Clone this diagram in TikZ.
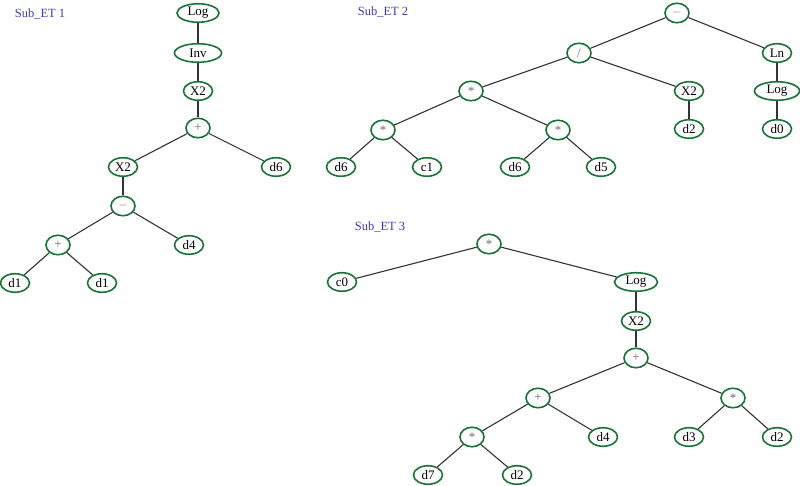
\documentclass[tikz,border=0pt]{standalone}
\usepackage{fontspec}
\setmainfont{Liberation Serif}
\usepackage{tikz}
\usetikzlibrary{shapes.geometric}

\definecolor{genegreen}{RGB}{25,115,55}
\definecolor{labelblue}{RGB}{60,60,180}
\definecolor{opgray}{RGB}{110,110,110}

\begin{document}
\begin{tikzpicture}[x=1pt,y=-1pt]
    \tikzstyle{gene} = [draw=genegreen, ellipse, line width=1.6pt, fill=white, inner sep=0pt, minimum width=29pt, minimum height=18.5pt, font=\fontsize{13}{15}\selectfont]
    \tikzstyle{op} = [gene, minimum width=24pt, minimum height=19.5pt, text=opgray]
    \tikzstyle{link} = [line width=1.1pt, draw=black!80]
    \tikzstyle{title} = [text=labelblue, font=\fontsize{12.5}{14}\selectfont]
    \useasboundingbox (0,0) rectangle (800,486);

    % Sub_ET 1
    \node [title] (T1) at (40,14) {Sub\_ET 1};
    \node [gene, minimum width=42pt] (ALog) at (198,13) {Log};
    \node [gene, minimum width=47pt] (AInv) at (198,53) {Inv};
    \draw [link] (ALog) -- (AInv);
    \node [gene] (ASq) at (198,91) {X2};
    \draw [link] (AInv) -- (ASq);
    \node [op] (APlus) at (198,128) {+};
    \draw [link] (ASq) -- (APlus);

      % left branch of the sum
      \node [gene] (ASqL) at (123,167) {X2};
      \draw [link] (APlus) -- (ASqL);
      \node [op] (AMinus) at (123,206) {$-$};
      \draw [link] (ASqL) -- (AMinus);
      \node [op] (APlusL) at (58,245) {+};
      \draw [link] (AMinus) -- (APlusL);
      \node [gene] (AdOneL) at (15,283) {d1};
      \draw [link] (APlusL) -- (AdOneL);
      \node [gene] (AdOneR) at (102,283) {d1};
      \draw [link] (APlusL) -- (AdOneR);
      \node [gene] (AdFour) at (189,245) {d4};
      \draw [link] (AMinus) -- (AdFour);

      % right branch of the sum
      \node [gene] (AdSix) at (276,167) {d6};
      \draw [link] (APlus) -- (AdSix);

    % Sub_ET 2
    \node [title] (T2) at (383,12) {Sub\_ET 2};
    \node [op] (BMinus) at (677,13) {$-$};
    \node [op] (BDiv) at (579,53) {/};
    \draw [link] (BMinus) -- (BDiv);

      % numerator
      \node [op] (BMul) at (471,91) {*};
      \draw [link] (BDiv) -- (BMul);
      \node [op] (BMulL) at (383,130) {*};
      \draw [link] (BMul) -- (BMulL);
      \node [gene] (BdSixL) at (341,167) {d6};
      \draw [link] (BMulL) -- (BdSixL);
      \node [gene] (BcOne) at (427,167) {c1};
      \draw [link] (BMulL) -- (BcOne);
      \node [op] (BMulR) at (558,130) {*};
      \draw [link] (BMul) -- (BMulR);
      \node [gene] (BdSixR) at (515,167) {d6};
      \draw [link] (BMulR) -- (BdSixR);
      \node [gene] (BdFive) at (601,167) {d5};
      \draw [link] (BMulR) -- (BdFive);

      % denominator
      \node [gene] (BSq) at (689,91) {X2};
      \draw [link] (BDiv) -- (BSq);
      \node [gene] (BdTwo) at (689,129) {d2};
      \draw [link] (BSq) -- (BdTwo);

      % right branch
      \node [gene] (BLn) at (777,53) {Ln};
      \draw [link] (BMinus) -- (BLn);
      \node [gene, minimum width=45pt] (BLog) at (777,91) {Log};
      \draw [link] (BLn) -- (BLog);
      \node [gene] (BdZero) at (777,129) {d0};
      \draw [link] (BLog) -- (BdZero);

    % Sub_ET 3
    \node [title] (T3) at (380,227) {Sub\_ET 3};
    \node [op] (CMul) at (489,244) {*};
    \node [gene] (CcZero) at (342,282) {c0};
    \draw [link] (CMul) -- (CcZero);
    \node [gene, minimum width=43pt] (CLog) at (636,282) {Log};
    \draw [link] (CMul) -- (CLog);
    \node [gene] (CSq) at (636,321) {X2};
    \draw [link] (CLog) -- (CSq);
    \node [op] (CPlus) at (636,358) {+};
    \draw [link] (CSq) -- (CPlus);

      % left branch of the sum
      \node [op] (CPlusL) at (538,398) {+};
      \draw [link] (CPlus) -- (CPlusL);
      \node [op] (CMulL) at (472,437) {*};
      \draw [link] (CPlusL) -- (CMulL);
      \node [gene] (CdSeven) at (428,475) {d7};
      \draw [link] (CMulL) -- (CdSeven);
      \node [gene] (CdTwoL) at (517,475) {d2};
      \draw [link] (CMulL) -- (CdTwoL);
      \node [gene] (CdFour) at (603,437) {d4};
      \draw [link] (CPlusL) -- (CdFour);

      % right branch of the sum
      \node [op] (CMulR) at (733,398) {*};
      \draw [link] (CPlus) -- (CMulR);
      \node [gene] (CdThree) at (689,437) {d3};
      \draw [link] (CMulR) -- (CdThree);
      \node [gene] (CdTwoR) at (777,437) {d2};
      \draw [link] (CMulR) -- (CdTwoR);
\end{tikzpicture}
\end{document}
